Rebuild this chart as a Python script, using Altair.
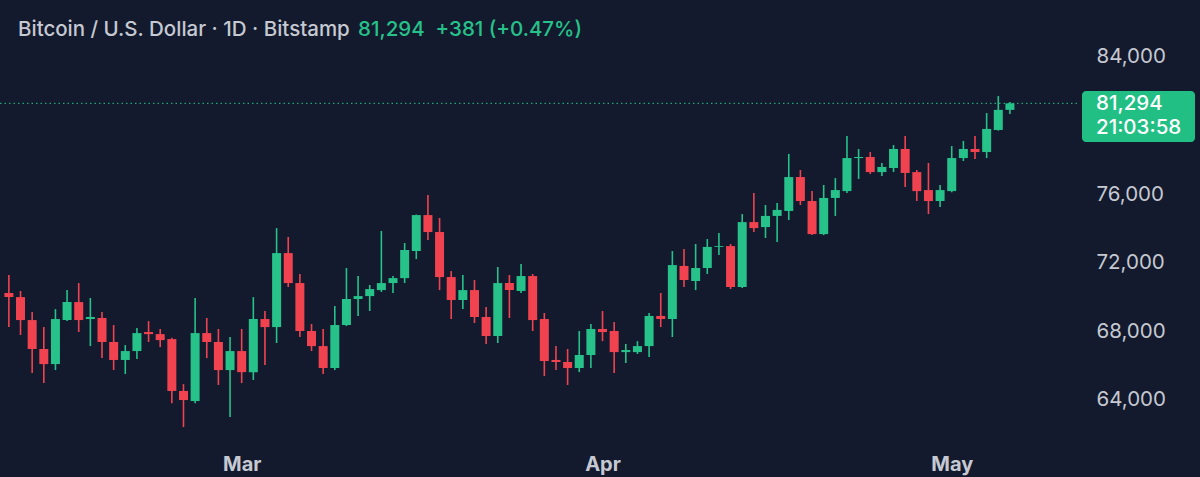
import altair as alt
import pandas as pd

# ---- data ----
start_date = "2026-02-09"
n_days = 87
dates = pd.date_range(start_date, periods=n_days, freq="D").strftime("%Y-%m-%d").tolist()

opens = [70220, 69980, 68640, 66950, 66070, 68640, 69690, 68700, 68760, 67360,
         66310, 66830, 67940, 67820, 67530, 64500, 63910, 67880, 67360, 65720,
         66830, 65600, 68700, 68230, 72550, 70800, 68000, 67120, 65840, 68350,
         69870, 70040, 70390, 70800, 71090, 72670, 74770, 73780, 71150, 69810,
         70390, 68820, 67710, 70800, 70340, 71210, 68700, 66310, 66190, 65840,
         66600, 68120, 68000, 66770, 66770, 67120, 68880, 68700, 71800, 70920,
         71680, 72910, 72960, 70570, 74360, 74070, 74720, 75010, 76990, 75590,
         73660, 75770, 76170, 78100, 78160, 77280, 77520, 78630, 77280, 76230,
         75590, 76170, 78100, 78630, 78450, 79740, 80913]
highs = [71270, 70340, 69110, 68230, 69280, 70390, 70800, 69930, 69110, 68350,
         67180, 68170, 68580, 68120, 67600, 64900, 69930, 68760, 68120, 67650,
         68120, 69980, 69170, 74010, 73490, 71330, 68410, 68120, 69460, 71680,
         71210, 70690, 73840, 71210, 73140, 74800, 75940, 74600, 71500, 71270,
         70980, 69400, 71740, 71270, 71910, 71330, 69050, 67120, 66950, 68000,
         68410, 69170, 68520, 67240, 67410, 69050, 70220, 72670, 72790, 73080,
         73370, 73720, 73080, 74830, 76060, 75360, 75470, 78340, 77400, 76170,
         76530, 76930, 79390, 78630, 78450, 77810, 78860, 79390, 77400, 77810,
         76530, 78800, 79100, 79390, 80730, 81720, 81370]
lows = [68230, 67770, 65550, 64960, 65720, 68580, 67940, 67120, 66420, 65720,
        65490, 66360, 67360, 67060, 63790, 62390, 63790, 66420, 64850, 62980,
        64960, 65140, 66010, 67300, 70570, 67650, 66830, 65490, 65720, 68290,
        68880, 69170, 70280, 70220, 70800, 72200, 73310, 70390, 68700, 69280,
        68470, 67240, 67300, 68760, 70220, 68000, 65370, 65720, 64850, 65600,
        65840, 67410, 65550, 66130, 66660, 66480, 68230, 67650, 70570, 70390,
        71330, 72440, 70450, 70510, 73780, 73430, 73200, 74480, 75360, 73600,
        73600, 74720, 76060, 76880, 77170, 77050, 77280, 76410, 75590, 74830,
        75240, 76100, 77930, 78040, 78100, 79700, 80670]
closes = [69980, 68640, 66950, 66070, 68700, 69690, 68640, 68820, 67360, 66310,
          66830, 67880, 67820, 67470, 64500, 63970, 67880, 67360, 65720, 66830,
          65600, 68700, 68230, 72550, 70800, 68000, 67120, 65840, 68350, 69870,
          70040, 70450, 70800, 71090, 72730, 74770, 73780, 71150, 69810, 70390,
          68820, 67710, 70800, 70390, 71210, 68640, 66250, 66190, 65840, 66600,
          68120, 67940, 66770, 66890, 67120, 68880, 68700, 71850, 70980, 71680,
          72910, 72960, 70570, 74360, 74010, 74720, 75070, 76990, 75590, 73660,
          75770, 76230, 78100, 78160, 77280, 77580, 78630, 77230, 76170, 75590,
          76230, 78100, 78630, 78450, 79800, 80913, 81294]

y_ticks = [64000, 68000, 72000, 76000, 84000]
title_text = "Bitcoin / U.S. Dollar · 1D · Bitstamp"
clock_text = "21:03:58"

# ---- styling ----
BG = "#131a2e"
UP = "#26c28a"
DOWN = "#f1434f"
TXT = "#c6c9d1"
FONT = "Inter"

df = pd.DataFrame({"date": dates, "open": opens, "high": highs,
                   "low": lows, "close": closes})
df["dir"] = ["up" if c >= o else "down" for o, c in zip(opens, closes)]

last = closes[-1]
chg = closes[-1] - closes[-2]
pct = chg / closes[-2] * 100
last_df = pd.DataFrame({"close": [last], "dir": ["up"]})
price_str = f"{last:,}"
chg_str = f"{price_str}\u00a0\u00a0{chg:+,} ({pct:+.2f}%)"

W, H = 1045, 440

x_scale = alt.Scale(
    type="utc",
    domain=[alt.DateTime(year=2026, month=2, date=8, hours=16, utc=True),
            alt.DateTime(year=2026, month=5, date=8, hours=14, utc=True)],
)
y_scale = alt.Scale(domain=[61637, 87328], nice=False, zero=False)

color = alt.Color("dir:N", scale=alt.Scale(domain=["up", "down"], range=[UP, DOWN]), legend=None)

base = alt.Chart(df)

x_enc = alt.X("date:T", scale=x_scale, title=None,
              axis=alt.Axis(format="%b", tickCount="month", grid=False, domain=False,
                            ticks=False, labelFont=FONT, labelFontSize=20,
                            labelFontWeight="bold", labelColor=TXT, labelPadding=14))

wicks = base.mark_rule(strokeWidth=1.6).encode(
    x=x_enc,
    y=alt.Y("low:Q", scale=y_scale, title=None,
            axis=alt.Axis(orient="right", values=y_ticks, format=",d", grid=False,
                          domain=False, ticks=False, labelFont=FONT, labelFontSize=20.5,
                          labelColor=TXT, labelPadding=51, labelAlign="left")),
    y2="high:Q",
    color=color,
)

bodies = base.mark_bar(size=9).encode(
    x="date:T",
    y="open:Q",
    y2="close:Q",
    color=color,
)

price_line = alt.Chart(last_df).mark_rule(strokeDash=[1.5, 3], strokeWidth=1, color=UP).encode(
    y="close:Q", x=alt.value(0), x2=alt.value(1080)
)

box = alt.Chart(last_df).mark_rect(color="#22bf85", cornerRadius=4).encode(
    x=alt.value(1082), x2=alt.value(1195), y=alt.value(91), y2=alt.value(142)
)
box_price = alt.Chart(last_df).mark_text(align="left", baseline="middle", font=FONT,
                                         fontSize=20.5, fontWeight=500, color="white").encode(
    x=alt.value(1096), y=alt.value(104), text=alt.value(price_str)
)
box_clock = alt.Chart(last_df).mark_text(align="left", baseline="middle", font=FONT,
                                         fontSize=20.5, fontWeight=500, color="white").encode(
    x=alt.value(1096), y=alt.value(128), text=alt.value(clock_text)
)

title1 = alt.Chart(last_df).mark_text(align="left", baseline="middle", font=FONT,
                                      fontSize=20.5, fontWeight=500, color=TXT).encode(
    x=alt.value(18), y=alt.value(30), text=alt.value(title_text)
)
title2 = alt.Chart(last_df).mark_text(align="left", baseline="middle", font=FONT,
                                      fontSize=20.5, fontWeight=500, color=UP).encode(
    x=alt.value(358), y=alt.value(30), text=alt.value(chg_str)
)

chart = alt.layer(
    price_line, wicks, bodies, box, box_price, box_clock, title1, title2
).properties(
    width=W, height=H,
    autosize=alt.AutoSizeParams(type="none"),
    padding={"left": 0, "top": 0, "right": 1200 - W, "bottom": 477 - H},
    background=BG,
).configure_view(stroke=None)

chart.save("out.html", embed_options={"renderer": "svg", "actions": False})
